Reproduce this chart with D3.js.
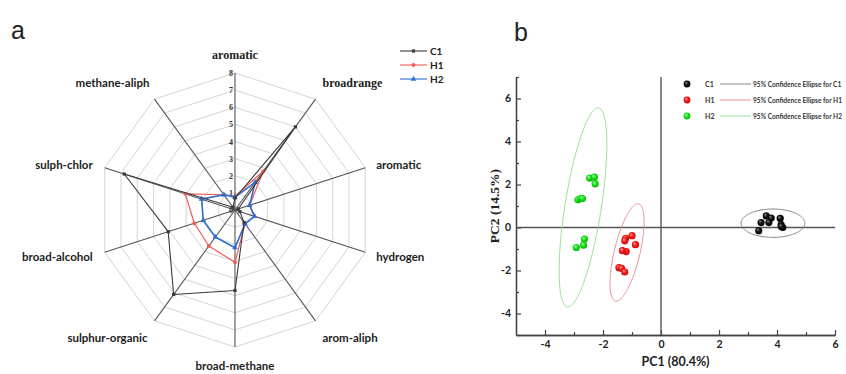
<!DOCTYPE html>
<html><head><meta charset="utf-8">
<script src="https://cdn.jsdelivr.net/npm/d3@7/dist/d3.min.js"></script>
<style>body{margin:0;background:#fff}svg{display:block}</style>
</head><body>
<svg id="c" width="846" height="374"></svg>
<script>
// ---------- Radar data ----------
const radarAxes = ["aromatic","broadrange","aromatic","hydrogen","arom-aliph","broad-methane","sulphur-organic","broad-alcohol","sulph-chlor","methane-aliph"];
const radarTicks = [0,1,2,3,4,5,6,7,8];
const radarSeries = ["C1","H1","H2"];
const c1Values = [0.7, 6.0, 0.2, 0.3, 0.9, 4.7, 6.1, 4.1, 6.8, 0.2];
const h1Values = [0.8, 2.8, 0.9, 1.2, 1.0, 3.05, 2.6, 2.5, 3.05, 1.1];
const h2Values = [0.75, 2.0, 0.9, 1.2, 1.0, 2.2, 1.95, 1.95, 2.05, 1.1];

// ---------- PCA data ----------
const pcaGroups = ["C1","H1","H2"];
const c1X = [3.63, 3.45, 3.80, 3.72, 4.11, 4.14, 4.20, 3.37, 4.15];
const c1Y = [0.54, 0.23, 0.44, 0.23, 0.42, 0.13, 0.00, -0.15, 0.05];
const h1X = [-1.00, -1.22, -1.25, -0.88, -1.20, -1.33, -1.45, -1.36, -1.25];
const h1Y = [-0.38, -0.50, -0.62, -0.80, -1.12, -1.08, -1.87, -1.90, -2.07];
const h2X = [-2.46, -2.30, -2.27, -2.86, -2.78, -2.71, -2.64, -2.67, -2.92];
const h2Y = [2.30, 2.34, 2.03, 1.29, 1.35, 1.35, -0.54, -0.82, -0.93];
// ellipse: centre, major half-axis vector, minor half-axis vector (data units)
const c1Ellipse = {cx: 3.86, cy: 0.20, ux: 1.10, uy: 0.0, vx: 0.0, vy: 0.66};
const h1Ellipse = {cx: -1.17, cy: -1.16, ux: 0.40, uy: 2.26, vx: 0.43, vy: -0.14};
const h2Ellipse = {cx: -2.69, cy: 0.93, ux: 0.54, uy: 4.63, vx: 0.62, vy: -0.13};
const xTicks = [-4,-2,0,2,4,6];
const yTicks = [-4,-2,0,2,4,6];
const xMinor = [-3,-1,1,3,5];
const yMinor = [-3,-1,1,3,5,7];
const pc1Label = "PC1 (80.4%)";
const pc2Label = "PC2 (14.5%)";

const svg = d3.select("#c");
svg.append("rect").attr("width",846).attr("height",374).attr("fill","#fff");

const sansB = "Lato, 'Liberation Sans', Arial, sans-serif";
const serifB = "'Liberation Serif', 'Times New Roman', serif";

// panel labels
svg.append("text").attr("x",11).attr("y",39).text("a")
  .attr("font-family","'Liberation Sans', Arial, sans-serif").attr("font-size",25).attr("fill","#222");
svg.append("text").attr("x",514).attr("y",41).text("b")
  .attr("font-family","'Liberation Sans', Arial, sans-serif").attr("font-size",25).attr("fill","#222");

// ---------- Radar ----------
const cx = 235, cy = 210;
const r = d3.scaleLinear().domain([0,8]).range([0,137]);
const n = radarAxes.length;
const ang = i => i * 2 * Math.PI / n;
const pt = (i, v) => [cx + r(v) * Math.sin(ang(i)), cy - r(v) * Math.cos(ang(i))];
const rg = svg.append("g");

radarTicks.slice(1).forEach(t => {
  rg.append("polygon")
    .attr("points", d3.range(n).map(i => pt(i, t).join(",")).join(" "))
    .attr("fill","none").attr("stroke","#cfcfcf").attr("stroke-width",0.9);
});
d3.range(n).forEach(i => {
  const p = pt(i, 8);
  rg.append("line").attr("x1",cx).attr("y1",cy).attr("x2",p[0]).attr("y2",p[1])
    .attr("stroke","#555").attr("stroke-width",1.1);
});
radarTicks.forEach(t => {
  rg.append("text").attr("x",cx-2).attr("y",cy - r(t) + 3).text(t)
    .attr("text-anchor","end").attr("font-family",serifB).attr("font-weight","bold")
    .attr("font-size",8).attr("fill","#333");
});

// axis labels
const labelOff = [[0,-14,"middle"],[7,-12,"start"],[11,1,"start"],[11,9,"start"],[7,21,"start"],
                  [0,23,"middle"],[-7,21,"end"],[-12,9,"end"],[-12,1,"end"],[-5,-12,"end"]];
radarAxes.forEach((name, i) => {
  const p = pt(i, 8);
  const o = labelOff[i];
  rg.append("text").attr("x",p[0]+o[0]).attr("y",p[1]+o[1]).text(name)
    .attr("text-anchor",o[2])
    .attr("font-family", i < 2 ? serifB : sansB)
    .attr("font-weight","bold")
    .attr("font-size", i < 2 ? 12 : 11.5)
    .attr("fill","#222");
});

const seriesVals = [c1Values, h1Values, h2Values];
const seriesCol = ["#3a3a3a", "#f05a5a", "#2f6fd0"];
const seriesW = [1.1, 1.2, 1.6];
const line = d3.line().curve(d3.curveLinearClosed);
function marker(g, kind, x, y, col) {
  if (kind === 0) g.append("rect").attr("x",x-1.6).attr("y",y-1.6).attr("width",3.2).attr("height",3.2).attr("fill",col);
  else if (kind === 1) g.append("circle").attr("cx",x).attr("cy",y).attr("r",1.9).attr("fill",col);
  else g.append("path").attr("d",d3.symbol(d3.symbolTriangle,14)()).attr("transform",`translate(${x},${y})`).attr("fill",col);
}
[1,2,0].forEach(s => {
  const pts = seriesVals[s].map((v,i) => pt(i, v));
  rg.append("path").attr("d", line(pts)).attr("fill","none")
    .attr("stroke", seriesCol[s]).attr("stroke-width", seriesW[s]).attr("stroke-linejoin","round");
  pts.forEach(p => marker(rg, s, p[0], p[1], seriesCol[s]));
});
// radar legend
radarSeries.forEach((name, s) => {
  const y = 51 + s * 14;
  rg.append("line").attr("x1",400).attr("x2",427).attr("y1",y).attr("y2",y)
    .attr("stroke",seriesCol[s]).attr("stroke-width",1.1);
  marker(rg, s, 413.5, y, seriesCol[s]);
  rg.append("text").attr("x",430).attr("y",y+3.5).text(name)
    .attr("font-family",sansB).attr("font-weight","bold").attr("font-size",10).attr("fill","#222");
});

// ---------- PCA ----------
const x = d3.scaleLinear().domain([-5,6]).range([516,835]);
const y = d3.scaleLinear().domain([-5,7]).range([335,77]);
const pg = svg.append("g");
const defs = svg.append("defs");
const grpCol = ["#111111", "#ff1a1a", "#19e619"];
const grpHi = ["#8a8a8a", "#ffb0b0", "#b5ffb5"];
const grpDark = ["#000000", "#c00000", "#00a800"];
const ellCol = ["#777777", "#e98585", "#8fdc8f"];
grpCol.forEach((c, k) => {
  const gr = defs.append("radialGradient").attr("id","sph"+k).attr("cx","50%").attr("cy","50%")
    .attr("fx","35%").attr("fy","30%").attr("r","60%");
  gr.append("stop").attr("offset","0%").attr("stop-color",grpHi[k]);
  gr.append("stop").attr("offset","45%").attr("stop-color",c);
  gr.append("stop").attr("offset","100%").attr("stop-color",grpDark[k]);
});

// axes
const fmt = d => String(d);
const axL = pg.append("g").attr("transform",`translate(${x(-5)},0)`)
  .call(d3.axisLeft(y).tickValues(yTicks).tickFormat(fmt).tickSizeInner(-5).tickSizeOuter(0).tickPadding(5));
const axLm = pg.append("g").attr("transform",`translate(${x(-5)},0)`)
  .call(d3.axisLeft(y).tickValues(yMinor).tickFormat("").tickSizeInner(-3).tickSizeOuter(0));
const axB = pg.append("g").attr("transform",`translate(0,${y(-5)})`)
  .call(d3.axisBottom(x).tickValues(xTicks).tickFormat(fmt).tickSizeInner(-5).tickSizeOuter(0).tickPadding(6));
const axBm = pg.append("g").attr("transform",`translate(0,${y(-5)})`)
  .call(d3.axisBottom(x).tickValues(xMinor).tickFormat("").tickSizeInner(-3).tickSizeOuter(0));
[axL, axLm, axB, axBm].forEach(a => {
  a.selectAll("path.domain").attr("stroke","#444").attr("stroke-width",1.3);
  a.selectAll("line").attr("stroke","#444").attr("stroke-width",1.2);
  a.selectAll("text").attr("font-family",sansB).attr("font-weight","bold").attr("font-size",10.5).attr("fill","#222");
});

// crosshair
pg.append("line").attr("x1",x(0)).attr("x2",x(0)).attr("y1",y(-5)).attr("y2",y(7))
  .attr("stroke","#555").attr("stroke-width",1.4);
pg.append("line").attr("x1",x(-5)).attr("x2",x(6)).attr("y1",y(0)).attr("y2",y(0))
  .attr("stroke","#555").attr("stroke-width",1.4);

// ellipses
const ells = [c1Ellipse, h1Ellipse, h2Ellipse];
ells.forEach((e, k) => {
  const pts = d3.range(0, 2*Math.PI, Math.PI/90).map(t =>
    [x(e.cx + Math.cos(t)*e.ux + Math.sin(t)*e.vx), y(e.cy + Math.cos(t)*e.uy + Math.sin(t)*e.vy)]);
  pg.append("path").attr("d", line(pts)).attr("fill","none").attr("stroke",ellCol[k]).attr("stroke-width",0.9);
});

// points
const grpX = [c1X, h1X, h2X], grpY = [c1Y, h1Y, h2Y];
grpX.forEach((xs, k) => {
  xs.forEach((v, i) => {
    pg.append("circle").attr("cx",x(v)).attr("cy",y(grpY[k][i])).attr("r",3.6).attr("fill",`url(#sph${k})`);
  });
});

// titles
pg.append("text").attr("x",(x(-5)+x(6))/2).attr("y",366).text(pc1Label).attr("text-anchor","middle")
  .attr("font-family",sansB).attr("font-weight","bold").attr("font-size",12.5).attr("fill","#222");
pg.append("text").attr("transform",`translate(499,${(y(-5)+y(7))/2}) rotate(-90)`).text(pc2Label)
  .attr("text-anchor","middle").attr("font-family",serifB).attr("font-weight","bold").attr("font-size",13.5).attr("fill","#222");

// PCA legend
pcaGroups.forEach((g, k) => {
  const ly = 84 + k*16;
  pg.append("circle").attr("cx",687).attr("cy",ly).attr("r",3.4).attr("fill",`url(#sph${k})`);
  pg.append("text").attr("x",705).attr("y",ly+2.5).text(g)
    .attr("font-family",sansB).attr("font-weight","bold").attr("font-size",7).attr("fill","#333");
  pg.append("line").attr("x1",720).attr("x2",751).attr("y1",ly).attr("y2",ly)
    .attr("stroke",ellCol[k]).attr("stroke-width",0.9);
  pg.append("text").attr("x",753).attr("y",ly+2.5).text("95% Confidence Ellipse for " + g)
    .attr("font-family",sansB).attr("font-weight","bold").attr("font-size",6.6).attr("fill","#333");
});
</script>
</body></html>
